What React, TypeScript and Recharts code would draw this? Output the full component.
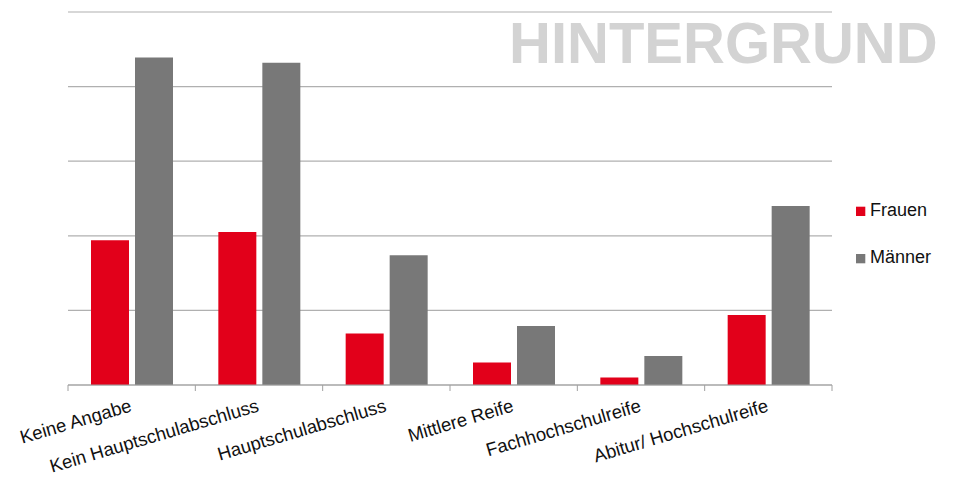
import React from 'react';
import { BarChart, Bar, XAxis, YAxis, CartesianGrid } from 'recharts';

const categories = [
  'Keine Angabe',
  'Kein Hauptschulabschluss',
  'Hauptschulabschluss',
  'Mittlere Reife',
  'Fachhochschulreife',
  'Abitur/ Hochschulreife',
];
const frauen = [1.94, 2.05, 0.69, 0.3, 0.1, 0.94];
const maenner = [4.39, 4.32, 1.74, 0.79, 0.39, 2.4];
const yTicks = [0, 1, 2, 3, 4, 5];

const RED = '#e2001a';
const GRAY = '#787878';
const FONT = '"Liberation Sans", Arial, sans-serif';

const W = 955;
const H = 477;
const M = { top: 12, right: 123, left: 68, bottom: 0 };
const BAND = (W - M.left - M.right) / categories.length;

const data = categories.map((name, i) => ({ name, Frauen: frauen[i], Männer: maenner[i] }));

const CategoryTick = (props: any) => {
  const { x, y, payload, index } = props;
  return (
    <g>
      <line x1={x - BAND / 2} x2={x - BAND / 2} y1={y} y2={y + 6} stroke="#a0a0a0" />
      {index === categories.length - 1 && (
        <line x1={x + BAND / 2} x2={x + BAND / 2} y1={y} y2={y + 6} stroke="#a0a0a0" />
      )}
      <g transform={`translate(${x + 1},${y + 26})`}>
        <text
          x={0}
          y={0}
          textAnchor="end"
          transform="rotate(-16.5)"
          fontFamily={FONT}
          fontSize={18.5}
          fill="#111"
        >
          {payload.value}
        </text>
      </g>
    </g>
  );
};

export default function App() {
  return (
    <div style={{ position: 'absolute', left: 0, top: 0, width: W, height: H, background: '#fff' }}>
      <BarChart width={W} height={H} data={data} margin={M} barSize={38} barGap={6}>
        <CartesianGrid vertical={false} stroke="#b0b0b0" strokeWidth={1.2} />
        <YAxis hide domain={[0, 5]} ticks={yTicks} />
        <XAxis
          dataKey="name"
          height={92}
          interval={0}
          axisLine={{ stroke: '#a0a0a0', strokeWidth: 1.2 }}
          tickLine={false}
          tickSize={0}
          tickMargin={0}
          tick={<CategoryTick />}
        />
        <Bar dataKey="Frauen" fill={RED} isAnimationActive={false} />
        <Bar dataKey="Männer" fill={GRAY} isAnimationActive={false} />
      </BarChart>
      <svg
        width={W}
        height={H}
        style={{ position: 'absolute', left: 0, top: 0, pointerEvents: 'none' }}
      >
        <text x={509} y={63} fontFamily={FONT} fontWeight="bold" fontSize={58} fill="#d3d3d3">
          HINTERGRUND
        </text>
        <g transform="translate(856,196)">
          <rect x={0} y={10.7} width={9.3} height={9.3} fill={RED} />
          <text x={14} y={20} fontFamily={FONT} fontSize={18} fill="#111">Frauen</text>
          <rect x={0} y={58} width={9.3} height={9.3} fill={GRAY} />
          <text x={14} y={67.3} fontFamily={FONT} fontSize={18} fill="#111">Männer</text>
        </g>
      </svg>
    </div>
  );
}
